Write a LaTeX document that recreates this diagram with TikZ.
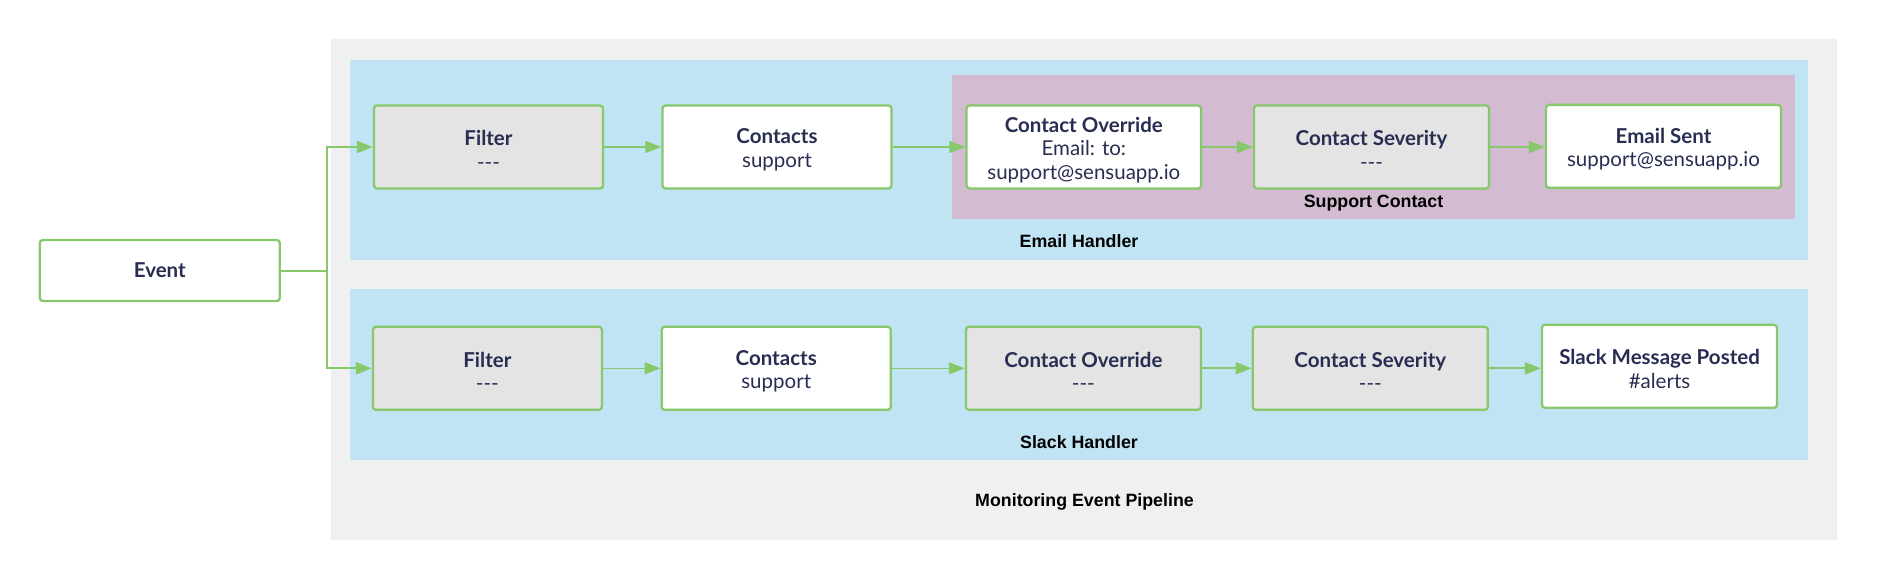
\documentclass[tikz,border=0pt]{standalone}
\usepackage{fontspec}
\setmainfont{Liberation Sans}
\newfontfamily\nodefont{Lato}
\usetikzlibrary{arrows.meta}
\definecolor{pipegray}{RGB}{240,240,240}
\definecolor{handlerblue}{RGB}{193,228,245}
\definecolor{contactpurple}{RGB}{211,187,209}
\definecolor{nodegreen}{RGB}{134,200,106}
\definecolor{nodegrayfill}{RGB}{228,228,228}
\definecolor{nodetext}{RGB}{40,45,82}
\tikzset{
  stagebox/.style={draw=nodegreen, line width=2.3pt, rounded corners=3pt, inner sep=0pt,
    minimum width=233pt, minimum height=83pt, align=center, text=nodetext,
    font=\nodefont\fontsize{20.5}{23.5}\selectfont},
  whitestage/.style={stagebox, fill=white},
  graystage/.style={stagebox, fill=nodegrayfill},
  grouplabel/.style={font=\bfseries\fontsize{17.8}{20}\selectfont, text=black, inner sep=0pt, anchor=base},
  thinlink/.style={draw=nodegreen, line width=1.1pt, -{Triangle[length=16pt,width=12pt]}},
  thicklink/.style={draw=nodegreen, line width=2pt, -{Triangle[length=16pt,width=12pt]}},
}
\newcommand{\ttl}[1]{\rule{0pt}{21pt}{\bfseries #1}}
\begin{document}
\begin{tikzpicture}[x=1pt,y=-1pt]
\useasboundingbox (0,0) rectangle (1878,580);
% backgrounds
\fill[pipegray] (331,39.5) rectangle (1837,539.7);
\fill[handlerblue] (349.8,60) rectangle (1808,260);
\fill[handlerblue] (349.8,289) rectangle (1808,460);
\fill[contactpurple] (952,75) rectangle (1795,219);
\node[grouplabel] (lblemail) at (1079,247.7) {Email Handler};
\node[grouplabel] (lblsupport) at (1373.5,207.3) {Support Contact};
\node[grouplabel] (lblslack) at (1079,448) {Slack Handler};
\node[grouplabel] (lblpipe) at (1084.5,506) {Monitoring Event Pipeline};
% event
\node[whitestage, minimum width=240pt, minimum height=61pt] (event) at (159.8,270.5) {\bfseries Event};
% top row
\node[graystage, minimum width=229pt] (filter1) at (488.5,147) {\ttl{Filter}\\---};
\node[whitestage, minimum width=229pt] (contacts1) at (777,147) {\ttl{Contacts}\\support};
\node[whitestage, minimum width=234.5pt] (override1) at (1083.8,147) {\ttl{Contact Override}\\Email: to:\\support@sensuapp.io};
\node[graystage, minimum width=235pt] (severity1) at (1371.5,147) {\ttl{Contact Severity}\\---};
\node[whitestage, minimum width=235pt] (emailsent) at (1663.5,146.4) {\ttl{Email Sent}\\support@sensuapp.io};
% bottom row
\node[graystage, minimum width=229pt] (filter2) at (487.4,368.3) {\ttl{Filter}\\---};
\node[whitestage, minimum width=229pt] (contacts2) at (776.2,368.3) {\ttl{Contacts}\\support};
\node[graystage, minimum width=235pt] (override2) at (1083.4,368.3) {\ttl{Contact Override}\\---};
\node[graystage, minimum width=235pt] (severity2) at (1370.3,368.3) {\ttl{Contact Severity}\\---};
\node[whitestage, minimum width=235pt] (slack) at (1659.5,366.3) {\ttl{Slack Message Posted}\\\#alerts};
% connectors
\coordinate (split) at (326.5,270.5);
\draw[thicklink] (event.east) -- (split) |- (filter1.west);
\draw[thicklink] (split) |- (filter2.west);
\draw[thinlink] (filter1) -- (contacts1);
\draw[thinlink] (contacts1) -- (override1);
\draw[thicklink] (override1) -- (severity1);
\draw[thicklink] (severity1) -- (emailsent.west |- severity1.east);
\draw[thinlink] (filter2) -- (contacts2);
\draw[thinlink] (contacts2) -- (override2);
\draw[thicklink] (override2) -- (severity2);
\draw[thicklink] (severity2) -- (slack.west |- severity2.east);
\end{tikzpicture}
\end{document}
